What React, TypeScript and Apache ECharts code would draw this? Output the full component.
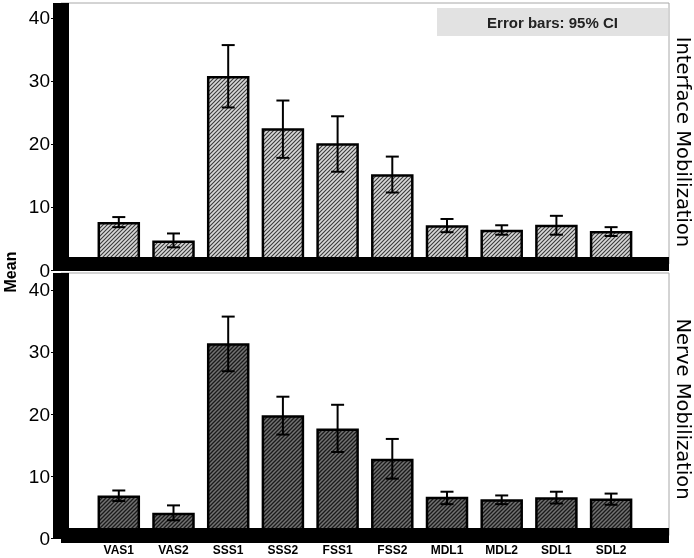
import React, { useEffect, useRef } from 'react';
import * as echarts from 'echarts';

const categories = ['VAS1', 'VAS2', 'SSS1', 'SSS2', 'FSS1', 'FSS2', 'MDL1', 'MDL2', 'SDL1', 'SDL2'];
const interfaceMean = [7.6, 4.7, 30.8, 22.5, 20.1, 15.2, 7.1, 6.4, 7.2, 6.2];
const interfaceLow = [6.8, 3.6, 25.8, 17.8, 15.6, 12.3, 6.0, 5.6, 5.6, 5.4];
const interfaceHigh = [8.4, 5.8, 35.7, 26.9, 24.4, 18.0, 8.1, 7.1, 8.6, 6.8];
const nerveMean = [6.9, 4.1, 31.4, 19.8, 17.7, 12.8, 6.7, 6.3, 6.6, 6.4];
const nerveLow = [6.0, 2.9, 26.9, 16.7, 13.9, 9.6, 5.5, 5.5, 5.6, 5.4];
const nerveHigh = [7.7, 5.3, 35.7, 22.8, 21.5, 16.0, 7.5, 6.9, 7.5, 7.2];
const yTicks = [0, 10, 20, 30, 40];
const panelNames = ['Interface Mobilization', 'Nerve Mobilization'];
const legendText = 'Error bars: 95% CI';
const yAxisName = 'Mean';

const FONT = '"Liberation Sans", Arial, sans-serif';

function hatch(bg: string, fg: string, lw: number) {
  const s = 4;
  const c = document.createElement('canvas');
  c.width = s;
  c.height = s;
  const ctx = c.getContext('2d')!;
  ctx.fillStyle = bg;
  ctx.fillRect(0, 0, s, s);
  ctx.strokeStyle = fg;
  ctx.lineWidth = lw;
  ctx.beginPath();
  ctx.moveTo(-1, s + 1);
  ctx.lineTo(s + 1, -1);
  ctx.moveTo(-1, 1);
  ctx.lineTo(1, -1);
  ctx.moveTo(s - 1, s + 1);
  ctx.lineTo(s + 1, s - 1);
  ctx.stroke();
  return { image: c, repeat: 'repeat', imageWidth: s, imageHeight: s } as any;
}

function errRender(params: any, api: any) {
  const i = api.value(0);
  const p1 = api.coord([i, api.value(1)]);
  const p2 = api.coord([i, api.value(2)]);
  const hw = 6.5;
  const style = { stroke: '#000', lineWidth: 2 };
  return {
    type: 'group',
    children: [
      { type: 'line', shape: { x1: p1[0], y1: p1[1], x2: p2[0], y2: p2[1] }, style },
      { type: 'line', shape: { x1: p1[0] - hw, y1: p1[1], x2: p1[0] + hw, y2: p1[1] }, style },
      { type: 'line', shape: { x1: p2[0] - hw, y1: p2[1], x2: p2[0] + hw, y2: p2[1] }, style },
    ],
  };
}

export default function App() {
  const ref = useRef<HTMLDivElement>(null);
  useEffect(() => {
    if (!ref.current) return;
    const chart = echarts.init(ref.current, null, { renderer: 'svg' });
    const lightHatch = hatch('#d8d8d8', '#3a3a3a', 1.1);
    const darkHatch = hatch('#727272', '#1a1a1a', 1.3);

    const dataLeft = 91.45;
    const dataWidth = 547;
    const yAxisBase = (gridIndex: number, max: number) => ({
      type: 'value',
      gridIndex,
      min: 0,
      max,
      offset: 30.45,
      axisLine: { show: true, onZero: false, lineStyle: { color: '#000', width: 16, cap: 'butt' } },
      axisTick: { show: true, length: 10, customValues: yTicks, lineStyle: { color: '#000', width: 1 } },
      axisLabel: { customValues: yTicks, fontSize: 19, color: '#000', margin: 11, fontFamily: FONT },
      splitLine: { show: false },
    });
    const frameX = (gridIndex: number, width: number) => ({
      type: 'value',
      gridIndex,
      min: 0,
      max: 1,
      z: 10,
      axisLine: { show: true, onZero: false, lineStyle: { color: '#000', width, cap: 'butt' } },
      axisTick: { show: false },
      axisLabel: { show: false },
      splitLine: { show: false },
    });
    const frameY = (gridIndex: number) => ({ type: 'value', gridIndex, show: false, min: 0, max: 1 });

    const option: any = {
      animation: false,
      grid: [
        { left: dataLeft, top: 3, width: dataWidth, height: 267 },
        { left: dataLeft, top: 273, width: dataWidth, height: 265.3 },
        { left: 61, top: 3, width: 608, height: 261, show: true, borderColor: '#a8a8a8', borderWidth: 1 },
        { left: 61, top: 273, width: 608, height: 262.5, show: true, borderColor: '#a8a8a8', borderWidth: 1 },
      ],
      xAxis: [
        {
          type: 'category',
          gridIndex: 0,
          data: categories,
          axisLine: { show: false },
          axisTick: { show: false },
          axisLabel: { show: false },
        },
        {
          type: 'category',
          gridIndex: 1,
          data: categories,
          axisLine: { show: false },
          axisTick: { show: false },
          axisLabel: { fontSize: 12, fontWeight: 'bold', color: '#000', margin: 6, fontFamily: FONT },
        },
        frameX(2, 14),
        frameX(3, 15),
      ],
      yAxis: [yAxisBase(0, 42.38), yAxisBase(1, 42.72), frameY(2), frameY(3)],
      series: [
        {
          type: 'bar',
          xAxisIndex: 0,
          yAxisIndex: 0,
          data: interfaceMean,
          barWidth: 42.5,
          itemStyle: { color: lightHatch, borderColor: '#000', borderWidth: 2.5 },
        },
        {
          type: 'custom',
          xAxisIndex: 0,
          yAxisIndex: 0,
          renderItem: errRender,
          data: categories.map((c, i) => [i, interfaceLow[i], interfaceHigh[i]]),
          z: 5,
        },
        {
          type: 'bar',
          xAxisIndex: 1,
          yAxisIndex: 1,
          data: nerveMean,
          barWidth: 42.5,
          itemStyle: { color: darkHatch, borderColor: '#000', borderWidth: 2.5 },
        },
        {
          type: 'custom',
          xAxisIndex: 1,
          yAxisIndex: 1,
          renderItem: errRender,
          data: categories.map((c, i) => [i, nerveLow[i], nerveHigh[i]]),
          z: 5,
        },
      ],
      graphic: [
        { type: 'rect', shape: { x: 437, y: 8, width: 231, height: 28 }, style: { fill: '#e2e2e2' }, z: 1 },
        {
          type: 'text',
          x: 552.5,
          y: 22.5,
          z: 2,
          style: {
            text: legendText,
            fontSize: 15,
            fontWeight: 'bold',
            fontFamily: FONT,
            fill: '#222',
            align: 'center',
            verticalAlign: 'middle',
          },
        },
        {
          type: 'text',
          x: 10,
          y: 272,
          rotation: Math.PI / 2,
          style: {
            text: yAxisName,
            fontSize: 16,
            fontWeight: 'bold',
            fontFamily: FONT,
            fill: '#000',
            align: 'center',
            verticalAlign: 'middle',
          },
        },
        {
          type: 'text',
          x: 683,
          y: 142,
          rotation: -Math.PI / 2,
          style: {
            text: panelNames[0],
            fontSize: 19.5,
            fontFamily: '"DejaVu Sans", sans-serif',
            fill: '#000',
            align: 'center',
            verticalAlign: 'middle',
          },
        },
        {
          type: 'text',
          x: 683,
          y: 409,
          rotation: -Math.PI / 2,
          style: {
            text: panelNames[1],
            fontSize: 19.5,
            fontFamily: '"DejaVu Sans", sans-serif',
            fill: '#000',
            align: 'center',
            verticalAlign: 'middle',
          },
        },
      ],
    };
    chart.setOption(option);
    return () => chart.dispose();
  }, []);
  return <div ref={ref} style={{ position: 'fixed', left: 0, top: 0, width: 694, height: 558 }} />;
}
